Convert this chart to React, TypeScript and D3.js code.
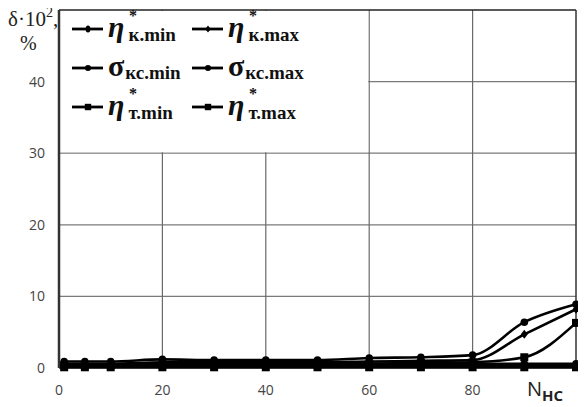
import React, { useEffect, useRef } from 'react';
import * as d3 from 'd3';

// x positions (N_HC) and series values (δ·10², %)
const nValues = [1, 5, 10, 20, 30, 40, 50, 60, 70, 80, 90, 100];
const etaKMin = [0.3, 0.3, 0.3, 0.4, 0.4, 0.4, 0.4, 0.4, 0.4, 0.4, 0.4, 0.4];
const etaKMax = [0.6, 0.6, 0.6, 0.8, 0.8, 0.8, 0.8, 0.9, 1.0, 1.1, 4.7, 8.2];
const sigmaMin = [0.5, 0.5, 0.5, 0.6, 0.6, 0.6, 0.6, 0.6, 0.6, 0.6, 0.6, 0.6];
const sigmaMax = [0.9, 0.9, 0.9, 1.2, 1.1, 1.1, 1.1, 1.4, 1.5, 1.8, 6.4, 8.9];
const etaTMin = [0.1, 0.1, 0.1, 0.1, 0.1, 0.1, 0.1, 0.1, 0.1, 0.1, 0.1, 0.1];
const etaTMax = [0.4, 0.4, 0.4, 0.5, 0.5, 0.5, 0.5, 0.6, 0.7, 0.8, 1.5, 6.3];
const yTicks = [0, 10, 20, 30, 40];
const xTicks = [0, 20, 40, 60, 80];

const seriesList = [
  { sym: 'η', sub: 'к.min', marker: 'dot', values: etaKMin },
  { sym: 'η', sub: 'к.max', marker: 'diamond', values: etaKMax },
  { sym: 'σ', sub: 'кс.min', marker: 'circle', values: sigmaMin },
  { sym: 'σ', sub: 'кс.max', marker: 'circle', values: sigmaMax },
  { sym: 'η', sub: 'т.min', marker: 'square', values: etaTMin },
  { sym: 'η', sub: 'т.max', marker: 'square', values: etaTMax },
];

const drawMarker = (g, kind, cx, cy, k = 1) => {
  if (kind === 'square') {
    g.append('rect').attr('x', cx - 4 * k).attr('y', cy - 4 * k).attr('width', 8 * k).attr('height', 8 * k).attr('fill', '#000');
  } else if (kind === 'diamond') {
    g.append('path').attr('d', `M${cx},${cy - 4.5 * k}L${cx + 3.5 * k},${cy}L${cx},${cy + 4.5 * k}L${cx - 3.5 * k},${cy}Z`).attr('fill', '#000');
  } else if (kind === 'circle') {
    g.append('circle').attr('cx', cx).attr('cy', cy).attr('r', 3.8 * k).attr('fill', '#000');
  } else {
    g.append('ellipse').attr('cx', cx).attr('cy', cy).attr('rx', 3 * k).attr('ry', 4.5 * k).attr('fill', '#000');
  }
};

const App = () => {
  const svgRef = useRef(null);

  useEffect(() => {
    const svg = d3.select(svgRef.current);
    svg.selectAll('*').remove();

    const left = 59, right = 576, top = 10, bottom = 368;
    const x = d3.scaleLinear().domain([0, 100]).range([left, right]);
    const y = d3.scaleLinear().domain([0, 50]).range([bottom, top]);

    // grid
    yTicks.filter(t => t > 0).forEach(t => {
      svg.append('line').attr('x1', left).attr('x2', right).attr('y1', y(t)).attr('y2', y(t))
        .attr('stroke', '#7a7a7a').attr('stroke-width', 1.2);
    });
    [20, 40, 60, 80].forEach(t => {
      svg.append('line').attr('x1', x(t)).attr('x2', x(t)).attr('y1', top).attr('y2', bottom)
        .attr('stroke', '#6a6a6a').attr('stroke-width', 1.2);
    });

    // legend background
    svg.append('rect').attr('x', left + 1).attr('y', top + 1).attr('width', x(60) - left - 2).attr('height', y(30) - top - 2)
      .attr('fill', '#fff');

    // frame
    svg.append('line').attr('x1', left).attr('x2', right).attr('y1', top).attr('y2', top).attr('stroke', '#222').attr('stroke-width', 1.5);
    svg.append('line').attr('x1', right).attr('x2', right).attr('y1', top).attr('y2', bottom).attr('stroke', '#333').attr('stroke-width', 1.5);
    svg.append('line').attr('x1', left).attr('x2', left).attr('y1', top).attr('y2', bottom).attr('stroke', '#333').attr('stroke-width', 2.5);
    svg.append('line').attr('x1', left).attr('x2', right).attr('y1', bottom).attr('y2', bottom).attr('stroke', '#333').attr('stroke-width', 1.5);

    // tick labels
    yTicks.forEach(t => {
      svg.append('text').attr('x', 45).attr('y', y(t) + 5).attr('text-anchor', 'end')
        .attr('font-family', 'Open Sans, sans-serif').attr('font-size', 14).attr('fill', '#444').text(t);
    });
    xTicks.forEach(t => {
      svg.append('text').attr('x', x(t)).attr('y', 395).attr('text-anchor', 'middle')
        .attr('font-family', 'Open Sans, sans-serif').attr('font-size', 14).attr('fill', '#444').text(t);
    });
    const nl = svg.append('text').attr('x', 527).attr('y', 396).attr('font-family', 'Open Sans, sans-serif').attr('fill', '#222');
    nl.append('tspan').attr('font-size', 20).text('N');
    nl.append('tspan').attr('font-size', 15).attr('font-weight', 'bold').attr('dy', 5).text('HC');

    // y label
    const yl = svg.append('text').attr('x', 8).attr('y', 26).attr('font-family', 'Liberation Serif, serif').attr('font-size', 21).attr('fill', '#222');
    yl.append('tspan').text('δ·10');
    yl.append('tspan').attr('font-size', 14).attr('dy', -9).text('2');
    yl.append('tspan').attr('dy', 9).text(',');
    svg.append('text').attr('x', 20).attr('y', 50).attr('font-family', 'Liberation Serif, serif').attr('font-size', 20).attr('fill', '#222').text('%');

    // series
    const line = d3.line().x(d => x(d[0])).y(d => y(d[1])).curve(d3.curveMonotoneX);
    seriesList.forEach(s => {
      const pts = nValues.map((n, i) => [n, s.values[i]]);
      svg.append('path').attr('d', line(pts)).attr('fill', 'none').attr('stroke', '#000').attr('stroke-width', 2.6);
      pts.forEach(p => drawMarker(svg, s.marker, x(p[0]), y(p[1])));
    });

    // legend
    seriesList.forEach((s, i) => {
      const col = i % 2, row = Math.floor(i / 2);
      const lx = col === 0 ? 72 : 192;
      const ly = 29 + row * 39;
      svg.append('line').attr('x1', lx).attr('x2', lx + 31).attr('y1', ly).attr('y2', ly).attr('stroke', '#000').attr('stroke-width', 2.8);
      drawMarker(svg, s.marker, lx + 16, ly, 0.8);
      const tx = lx + 36;
      const t = svg.append('text').attr('x', tx).attr('y', ly + 8).attr('font-family', 'Liberation Serif, serif')
        .attr('font-weight', 'bold').attr('fill', '#111');
      if (s.sym === 'η') {
        t.append('tspan').attr('font-style', 'italic').attr('font-size', 30).text('η');
        svg.append('text').attr('x', tx + 21).attr('y', ly - 8).attr('font-family', 'Liberation Serif, serif')
          .attr('font-weight', 'bold').attr('font-size', 16).attr('fill', '#111').text('*');
        t.append('tspan').attr('font-size', 19).attr('dx', 4).attr('dy', 4).text(s.sub);
      } else {
        t.append('tspan').attr('font-size', 30).text('σ');
        t.append('tspan').attr('font-size', 19).attr('dx', 1).attr('dy', 3).text(s.sub);
      }
    });
  }, []);

  return <svg ref={svgRef} width={586} height={407} style={{ display: 'block', marginTop: -8, marginLeft: -8 }} />;
};

export default App;
